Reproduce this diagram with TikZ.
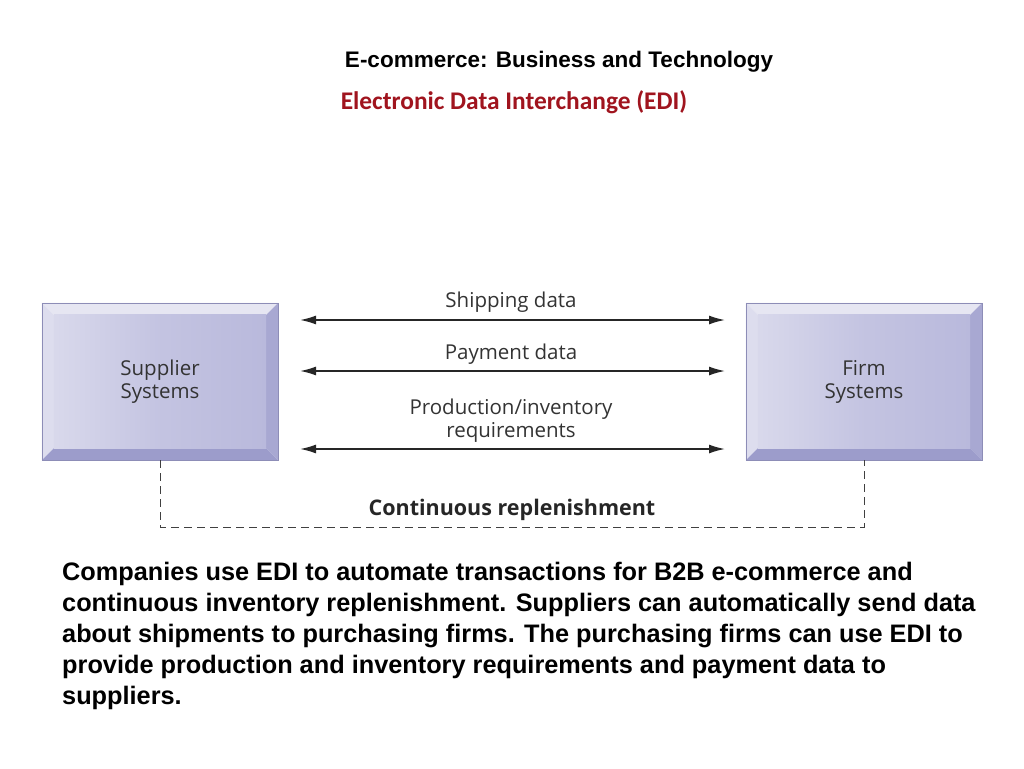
\documentclass[tikz,border=0pt]{standalone}
\usepackage{fontspec}
\setmainfont{Liberation Sans}
\newfontfamily\labelfont{Open Sans}
\newfontfamily\calfont{Carlito}
\usetikzlibrary{positioning,arrows.meta}
\definecolor{boxfill}{HTML}{B9B9DC}
\definecolor{boxlight}{HTML}{E6E6F2}
\definecolor{boxdark}{HTML}{9C9CCB}
\definecolor{boxside}{HTML}{A8A8D2}
\definecolor{titlered}{HTML}{A0141E}
\tikzset{
  sysbox/.style={minimum width=236pt, minimum height=157pt, inner sep=0pt,
    font=\labelfont\fontsize{20.5}{23}\selectfont, text=black!80, align=center},
  flow/.style={{Latex[length=16pt,width=9pt]}-{Latex[length=16pt,width=9pt]}, line width=1.6pt, black!85},
  flowlabel/.style={font=\labelfont\fontsize{20.5}{23}\selectfont, text=black!80, align=center},
}
\newcommand{\bevelbox}[1]{%
  \fill[boxlight] (#1.north west)--(#1.north east)--([shift={(-12pt,-12pt)}]#1.north east)--([shift={(12pt,-12pt)}]#1.north west)--cycle;
  \fill[boxlight!80!boxfill] (#1.north west)--([shift={(12pt,-12pt)}]#1.north west)--([shift={(12pt,12pt)}]#1.south west)--(#1.south west)--cycle;
  \fill[boxside] (#1.north east)--(#1.south east)--([shift={(-12pt,12pt)}]#1.south east)--([shift={(-12pt,-12pt)}]#1.north east)--cycle;
  \fill[boxdark] (#1.south west)--(#1.south east)--([shift={(-12pt,12pt)}]#1.south east)--([shift={(12pt,12pt)}]#1.south west)--cycle;
  \shade[left color=boxlight!70!boxfill, right color=boxfill, middle color=boxfill!85!white] ([shift={(12pt,-12pt)}]#1.north west) rectangle ([shift={(-12pt,12pt)}]#1.south east);
  \draw[boxdark!90!black, line width=0.6pt] (#1.north west) rectangle (#1.south east);
}
\begin{document}
\begin{tikzpicture}[x=1pt,y=-1pt]
\useasboundingbox (0,0) rectangle (1024,768);
% titles
\node[font=\bfseries\fontsize{22.5}{26}\selectfont] (title) at (559,62) {E-commerce: Business and Technology};
\node[font=\calfont\bfseries\fontsize{25.4}{30}\selectfont, text=titlered] (subtitle) at (514,102) {Electronic Data Interchange (EDI)};
% systems
\node[sysbox] (supplier) at (160,381.5) {};
\bevelbox{supplier}
\node[sysbox] at (supplier) {Supplier\\Systems};
\node[sysbox] (firm) at (864,381.5) {};
\bevelbox{firm}
\node[sysbox] at (firm) {Firm\\Systems};
% flows
\coordinate (s1) at (300,320); \coordinate (f1) at (725,320);
\coordinate (s2) at (300,371); \coordinate (f2) at (725,371);
\coordinate (s3) at (300,449); \coordinate (f3) at (725,449);
\draw[flow] (s1)--(f1);
\draw[flow] (s2)--(f2);
\draw[flow] (s3)--(f3);
\node[flowlabel] (ship) at (511,302) {Shipping data};
\node[flowlabel] (pay) at (511,354) {Payment data};
\node[flowlabel] (prod) at (511,421) {Production/inventory\\requirements};
% replenishment
\draw[dashed, line width=0.9pt, black!75, dash pattern=on 8pt off 5pt] (supplier.south)--(160,527)--(864,527)--(firm.south);
\node[font=\labelfont\bfseries\fontsize{21.5}{24}\selectfont, text=black!85] (repl) at (512,510) {Continuous replenishment};
% caption
\node[anchor=north west, align=left, font=\bfseries\fontsize{25.3}{31}\selectfont, inner sep=0pt] (caption) at (62,562)
 {Companies use EDI to automate transactions for B2B e-commerce and\\
  continuous inventory replenishment. Suppliers can automatically send data\\
  about shipments to purchasing firms. The purchasing firms can use EDI to\\
  provide production and inventory requirements and payment data to\\
  suppliers.};
\end{tikzpicture}
\end{document}
